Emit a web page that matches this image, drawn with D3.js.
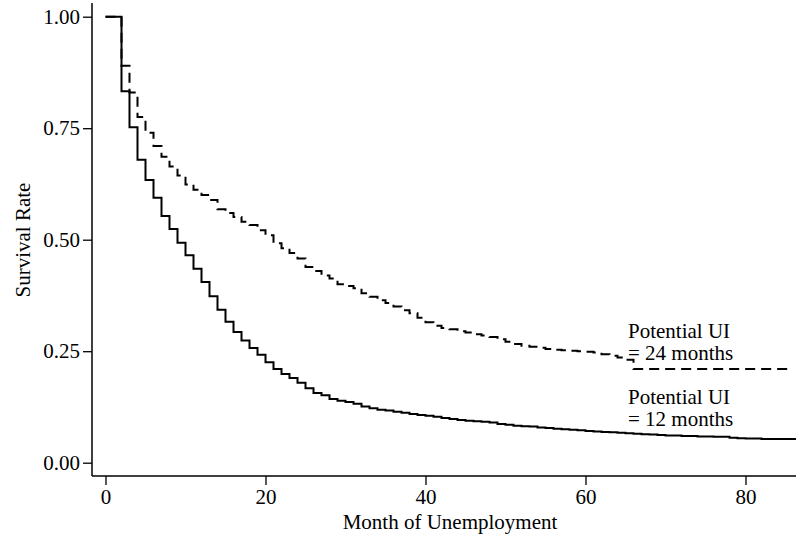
<!DOCTYPE html>
<html>
<head>
<meta charset="utf-8">
<script src="https://cdn.jsdelivr.net/npm/d3@7"></script>
<style>
  html, body { margin: 0; padding: 0; background: #fff; }
  svg { display: block; font-family: "Liberation Serif", "Times New Roman", serif; }
</style>
</head>
<body>
<svg id="chart" width="796" height="535"></svg>
<script>
// Kaplan–Meier survival in unemployment, by potential UI duration.
// Values are monthly survival rates starting at month 0.
const survival12 = [
  1.000, 1.000, 0.833, 0.752, 0.679, 0.634, 0.594, 0.553, 0.524, 0.493,
  0.465, 0.435, 0.405, 0.373, 0.343, 0.316, 0.293, 0.274, 0.257, 0.242,
  0.225, 0.210, 0.199, 0.190, 0.179, 0.167, 0.156, 0.151, 0.143, 0.139,
  0.136, 0.132, 0.126, 0.122, 0.119, 0.117, 0.114, 0.112, 0.109, 0.107,
  0.105, 0.103, 0.100, 0.098, 0.096, 0.094, 0.093, 0.092, 0.090, 0.087,
  0.085, 0.083, 0.082, 0.081, 0.079, 0.078, 0.076, 0.075, 0.074, 0.073,
  0.071, 0.070, 0.069, 0.068, 0.067, 0.066, 0.065, 0.064, 0.063, 0.062,
  0.061, 0.061, 0.060, 0.060, 0.059, 0.059, 0.058, 0.058, 0.056, 0.055,
  0.054, 0.054, 0.053, 0.053, 0.053, 0.053, 0.053
];
const survival24 = [
  1.000, 1.000, 0.890, 0.830, 0.775, 0.740, 0.710, 0.686, 0.664, 0.644,
  0.624, 0.612, 0.600, 0.589, 0.568, 0.560, 0.551, 0.540, 0.533, 0.521,
  0.510, 0.492, 0.481, 0.470, 0.458, 0.439, 0.430, 0.420, 0.413, 0.400,
  0.396, 0.391, 0.380, 0.372, 0.364, 0.358, 0.350, 0.342, 0.335, 0.325,
  0.315, 0.307, 0.302, 0.299, 0.295, 0.292, 0.288, 0.285, 0.282, 0.277,
  0.271, 0.266, 0.262, 0.260, 0.258, 0.255, 0.253, 0.252, 0.251, 0.250,
  0.249, 0.247, 0.243, 0.240, 0.236, 0.231, 0.210, 0.210, 0.210, 0.210,
  0.210, 0.210, 0.210, 0.210, 0.210, 0.210, 0.210, 0.210, 0.210, 0.210,
  0.210, 0.210, 0.210, 0.210, 0.210, 0.210
];
// End of follow-up (months) for each group
const followUpEnd12 = 86.4;
const followUpEnd24 = 85.3;

const xTicks = [0, 20, 40, 60, 80];
const yTicks = [0, 0.25, 0.5, 0.75, 1];
const seriesLabels = [
  ["Potential UI", "= 24 months"],
  ["Potential UI", "= 12 months"]
];
const xTitle = "Month of Unemployment";
const yTitle = "Survival Rate";

const svg = d3.select("#chart");
const FONT = 21;

const x = d3.scaleLinear().domain([0, 80]).range([105.5, 745.5]);
const y = d3.scaleLinear().domain([0, 1]).range([462.7, 16.7]);

const axisLeftX = 92, axisBottomY = 476;

// axes
const gx = svg.append("g").attr("transform", `translate(0,${axisBottomY})`)
  .call(d3.axisBottom(x).tickValues(xTicks).tickSize(9).tickPadding(3).tickFormat(d3.format("d")));
const gy = svg.append("g").attr("transform", `translate(${axisLeftX},0)`)
  .call(d3.axisLeft(y).tickValues(yTicks).tickSize(9).tickPadding(3).tickFormat(d3.format(".2f")));
[gx, gy].forEach(g => {
  g.select(".domain").remove();
  g.selectAll("line").attr("stroke", "#000").attr("stroke-width", 1.3);
  g.selectAll("text").attr("fill", "#000").attr("font-size", FONT)
    .attr("font-family", "Liberation Serif, Times New Roman, serif");
});
gx.selectAll("text").attr("dy", "0.76em");

svg.append("line").attr("x1", axisLeftX).attr("x2", 796)
  .attr("y1", axisBottomY).attr("y2", axisBottomY)
  .attr("stroke", "#000").attr("stroke-width", 1.5);
svg.append("line").attr("x1", axisLeftX).attr("x2", axisLeftX)
  .attr("y1", 3).attr("y2", axisBottomY)
  .attr("stroke", "#000").attr("stroke-width", 1.5);

// axis titles
svg.append("text").attr("x", 450).attr("y", 529)
  .attr("text-anchor", "middle").attr("font-size", FONT).text(xTitle);
svg.append("text").attr("transform", `translate(30,240) rotate(-90)`)
  .attr("text-anchor", "middle").attr("font-size", FONT).text(yTitle);

// survival step curves
function toPoints(vals, end) {
  const pts = vals.map((v, i) => [i, v]);
  pts.push([end, vals[vals.length - 1]]);
  return pts;
}
const line = d3.line().x(d => x(d[0])).y(d => y(d[1])).curve(d3.curveStepAfter);

svg.append("path").datum(toPoints(survival24, followUpEnd24))
  .attr("d", line).attr("fill", "none").attr("stroke", "#000")
  .attr("stroke-width", 2).attr("stroke-dasharray", "10,6");
svg.append("path").datum(toPoints(survival12, followUpEnd12))
  .attr("d", line).attr("fill", "none").attr("stroke", "#000")
  .attr("stroke-width", 2);

// series labels
const labelTop = [337.7, 404];
seriesLabels.forEach((lines, k) => {
  const t = svg.append("text").attr("font-size", FONT)
    .attr("x", 628).attr("y", labelTop[k]);
  lines.forEach((s, i) => {
    t.append("tspan").attr("x", 628).attr("dy", i === 0 ? 0 : 21.8).text(s);
  });
});
</script>
</body>
</html>
